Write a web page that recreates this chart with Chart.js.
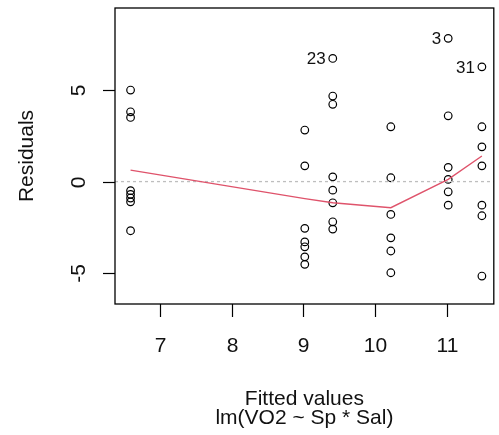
<!DOCTYPE html>
<html>
<head>
<meta charset="utf-8">
<script src="https://cdn.jsdelivr.net/npm/chart.js@4/dist/chart.umd.min.js"></script>
<style>
  html, body { margin: 0; padding: 0; background: #fff; }
  #wrap { width: 499px; height: 435px; }
</style>
</head>
<body>
<div id="wrap"><canvas id="residChart" width="499" height="435"></canvas></div>
<script>
// Fitted values and residuals (grouped by fitted level)
const fitted = [
  6.59, 6.59, 6.59, 6.59, 6.59, 6.59, 6.59, 6.59,
  9.02, 9.02, 9.02, 9.02, 9.02, 9.02, 9.02,
  9.41, 9.41, 9.41, 9.41, 9.41, 9.41, 9.41, 9.41,
  10.22, 10.22, 10.22, 10.22, 10.22, 10.22,
  11.02, 11.02, 11.02, 11.02, 11.02, 11.02,
  11.49, 11.49, 11.49, 11.49, 11.49, 11.49, 11.49
];
const residuals = [
  5.01, 3.82, 3.51, -0.50, -0.70, -0.90, -1.11, -2.69,
  2.82, 0.86, -2.56, -3.30, -3.57, -4.12, -4.53,
  6.74, 4.68, 4.23, 0.26, -0.47, -1.16, -2.20, -2.60,
  3.00, 0.21, -1.80, -3.08, -3.80, -4.99,
  7.84, 3.60, 0.78, 0.12, -0.56, -1.29,
  6.28, 3.00, 1.90, 0.86, -1.29, -1.87, -5.17
];

// Lowess smooth (red line)
const smoothX = [6.59, 9.02, 9.41, 10.22, 11.02, 11.49];
const smoothY = [0.63, -0.93, -1.16, -1.43, 0.12, 1.40];

// Labelled observations: text and index into the arrays above
const obsLabels = ['23', '3', '31'];
const obsIndex = [15, 29, 35];

// Axis ticks
const xTicks = [7, 8, 9, 10, 11];
const yTicks = [-5, 0, 5];

const X_MIN = 6.373, X_MAX = 11.656;
const Y_MIN = -6.70, Y_MAX = 9.50;

const FONT = '"Liberation Sans", Arial, sans-serif';

const pointData = fitted.map((x, i) => ({ x: x, y: residuals[i] }));
const smoothData = smoothX.map((x, i) => ({ x: x, y: smoothY[i] }));
const zeroData = [{ x: X_MIN, y: 0 }, { x: X_MAX, y: 0 }];

// draws the R style box, ticks, tick labels, titles and point ids
const rAxes = {
  id: 'rAxes',
  afterDraw(chart) {
    const ctx = chart.ctx;
    const area = chart.chartArea;
    const xs = chart.scales.x;
    const ys = chart.scales.y;
    ctx.save();
    ctx.strokeStyle = '#000';
    ctx.fillStyle = '#111';
    ctx.lineWidth = 1.3;
    ctx.strokeRect(area.left, area.top, area.right - area.left, area.bottom - area.top);

    ctx.lineWidth = 1.2;
    ctx.font = '21px ' + FONT;
    ctx.textAlign = 'center';
    ctx.textBaseline = 'alphabetic';
    xTicks.forEach(v => {
      const px = Math.round(xs.getPixelForValue(v)) + 0.5;
      ctx.beginPath();
      ctx.moveTo(px, area.bottom);
      ctx.lineTo(px, area.bottom + 13);
      ctx.stroke();
      ctx.fillText(String(v), px, 352);
    });
    yTicks.forEach(v => {
      const py = Math.round(ys.getPixelForValue(v)) + 0.5;
      ctx.beginPath();
      ctx.moveTo(area.left - 12, py);
      ctx.lineTo(area.left, py);
      ctx.stroke();
      ctx.save();
      ctx.translate(85, py);
      ctx.rotate(-Math.PI / 2);
      ctx.fillText(String(v), 0, 0);
      ctx.restore();
    });

    // axis titles
    ctx.fillText('Fitted values', (area.left + area.right) / 2, 405);
    ctx.fillText('lm(VO2 ~ Sp * Sal)', (area.left + area.right) / 2, 424);
    ctx.save();
    ctx.translate(33, (area.top + area.bottom) / 2);
    ctx.rotate(-Math.PI / 2);
    ctx.fillText('Residuals', 0, 0);
    ctx.restore();

    // labels of the largest residuals
    const meta = chart.getDatasetMeta(0);
    ctx.font = '17px ' + FONT;
    ctx.textAlign = 'right';
    ctx.textBaseline = 'middle';
    obsIndex.forEach((idx, k) => {
      const el = meta.data[idx];
      ctx.fillText(obsLabels[k], el.x - 7, el.y + 1);
    });
    ctx.restore();
  }
};

new Chart(document.getElementById('residChart').getContext('2d'), {
  type: 'scatter',
  data: {
    datasets: [
      {
        label: 'residuals',
        data: pointData,
        pointStyle: 'circle',
        pointRadius: 3.8,
        pointBorderWidth: 1.2,
        pointBorderColor: '#000',
        pointBackgroundColor: 'rgba(0,0,0,0)',
        order: 3
      },
      {
        label: 'smooth',
        type: 'line',
        data: smoothData,
        borderColor: '#DF536B',
        borderWidth: 1.4,
        pointRadius: 0,
        tension: 0,
        fill: false,
        order: 1
      },
      {
        label: 'zero',
        type: 'line',
        data: zeroData,
        borderColor: '#BEBEBE',
        borderWidth: 1.3,
        borderDash: [3, 3],
        pointRadius: 0,
        fill: false,
        order: 2
      }
    ]
  },
  options: {
    responsive: false,
    animation: false,
    layout: { padding: { left: 115, top: 8, right: 2, bottom: 131 } },
    plugins: {
      legend: { display: false },
      tooltip: { enabled: false }
    },
    scales: {
      x: { type: 'linear', min: X_MIN, max: X_MAX, display: false },
      y: { type: 'linear', min: Y_MIN, max: Y_MAX, display: false }
    }
  },
  plugins: [rAxes]
});
</script>
</body>
</html>
